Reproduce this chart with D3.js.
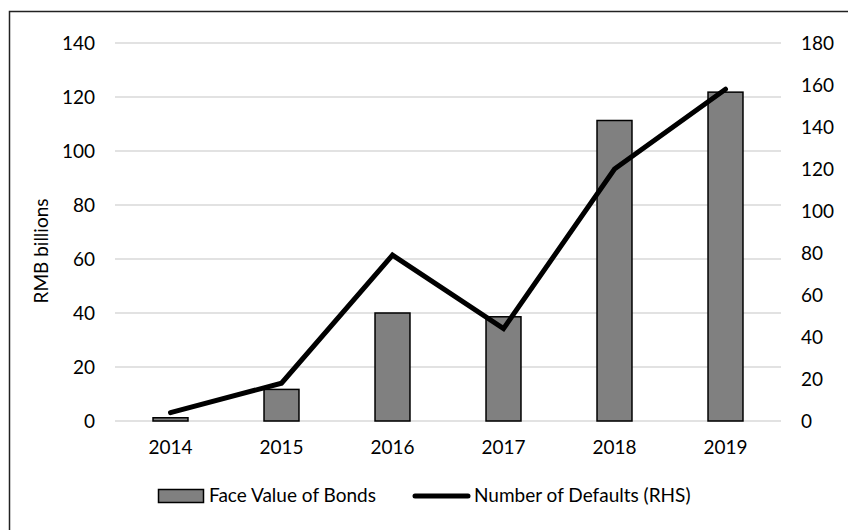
<!DOCTYPE html>
<html>
<head>
<meta charset="utf-8">
<script src="https://cdn.jsdelivr.net/npm/d3@7"></script>
<style>
  body { margin: 0; background: #fff; }
  text { font-family: Lato, "Open Sans", sans-serif; fill: #000; }
</style>
</head>
<body>
<div id="chart"></div>
<script>
// chart data
var years = ["2014", "2015", "2016", "2017", "2018", "2019"];
var faceValue = [1.2, 11.7, 40, 38.6, 111.3, 121.8];   // RMB billions
var defaults = [4, 18, 79, 44, 120, 158];              // count (RHS)
var leftTicks = [0, 20, 40, 60, 80, 100, 120, 140];
var rightTicks = [0, 20, 40, 60, 80, 100, 120, 140, 160, 180];

var w = 848, h = 530;
var fs = "19px";
var svg = d3.select("#chart").append("svg")
  .attr("width", w)
  .attr("height", h);

// frame
svg.append("rect")
  .attr("x", 9.5).attr("y", 11.5)
  .attr("width", w).attr("height", h)
  .attr("fill", "none")
  .attr("stroke", "#222")
  .attr("stroke-width", 1.5);

var plotL = 115, plotR = 781, plotT = 43, plotB = 421;

var x = d3.scaleBand().domain(years).range([plotL, plotR]).paddingInner(0.685).paddingOuter(0.3425);
var xc = d3.scaleBand().domain(years).range([plotL, plotR]);
var yL = d3.scaleLinear().domain([0, 140]).range([plotB, plotT]);
var yR = d3.scaleLinear().domain([0, 180]).range([plotB, plotT]);

// gridlines
svg.append("g")
  .selectAll("line")
  .data(leftTicks)
  .enter().append("line")
  .attr("x1", plotL).attr("x2", plotR)
  .attr("y1", function(d) { return yL(d); })
  .attr("y2", function(d) { return yL(d); })
  .attr("stroke", "#d9d9d9")
  .attr("stroke-width", 1.3);

// left axis
var axL = svg.append("g")
  .attr("transform", "translate(" + plotL + ",0)")
  .call(d3.axisLeft(yL).tickValues(leftTicks).tickSize(0).tickPadding(20));
axL.select(".domain").remove();
axL.selectAll("text").style("font-size", fs).style("font-family", "Lato, sans-serif");

// right axis
var axR = svg.append("g")
  .attr("transform", "translate(" + plotR + ",0)")
  .call(d3.axisRight(yR).tickValues(rightTicks).tickSize(0).tickPadding(20));
axR.select(".domain").remove();
axR.selectAll("text").style("font-size", fs).style("font-family", "Lato, sans-serif");

// x axis labels
var axX = svg.append("g")
  .attr("transform", "translate(0," + plotB + ")")
  .call(d3.axisBottom(xc).tickSize(0).tickPadding(20));
axX.select(".domain").remove();
axX.selectAll("text").style("font-size", fs).style("font-family", "Lato, sans-serif");

// y title
svg.append("text")
  .attr("transform", "translate(48,251) rotate(-90)")
  .attr("text-anchor", "middle")
  .style("font-size", fs)
  .text("RMB billions");

// bars
svg.append("g")
  .selectAll("rect")
  .data(years)
  .enter().append("rect")
  .attr("x", function(d) { return x(d); })
  .attr("width", x.bandwidth())
  .attr("y", function(d, i) { return yL(faceValue[i]); })
  .attr("height", function(d, i) { return yL(0) - yL(faceValue[i]); })
  .attr("fill", "#808080")
  .attr("stroke", "#000")
  .attr("stroke-width", 1.5);

// line
var line = d3.line()
  .x(function(d, i) { return xc(years[i]) + xc.bandwidth() / 2; })
  .y(function(d) { return yR(d); });
svg.append("path")
  .datum(defaults)
  .attr("d", line)
  .attr("fill", "none")
  .attr("stroke", "#000")
  .attr("stroke-width", 5)
  .attr("stroke-linecap", "round")
  .attr("stroke-linejoin", "miter");

// legend
var lg = svg.append("g");
lg.append("rect")
  .attr("x", 158.5).attr("y", 489.5)
  .attr("width", 45).attr("height", 13)
  .attr("fill", "#808080").attr("stroke", "#000").attr("stroke-width", 1.5);
lg.append("text")
  .attr("x", 209).attr("y", 502)
  .style("font-size", fs)
  .text("Face Value of Bonds");
lg.append("line")
  .attr("x1", 415).attr("x2", 468)
  .attr("y1", 496).attr("y2", 496)
  .attr("stroke", "#000").attr("stroke-width", 5).attr("stroke-linecap", "round");
lg.append("text")
  .attr("x", 474).attr("y", 502)
  .style("font-size", fs)
  .text("Number of Defaults (RHS)");
</script>
</body>
</html>
